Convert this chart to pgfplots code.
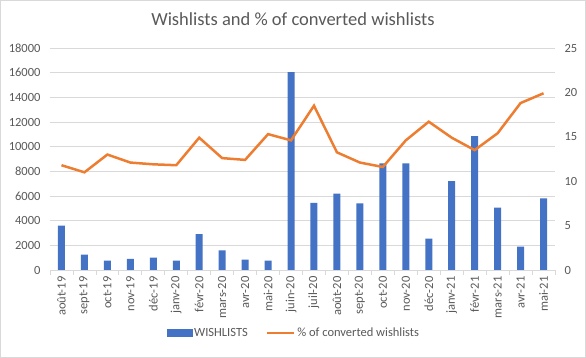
\documentclass[border=0pt]{standalone}
\usepackage{pgfplots}
\pgfplotsset{compat=1.18}
\usepackage{fontspec}
\setmainfont{Carlito}
\definecolor{xblue}{HTML}{4472C4}
\definecolor{xorange}{HTML}{ED7D31}
\definecolor{xgrid}{HTML}{D9D9D9}
\definecolor{xtext}{HTML}{595959}
\begin{document}
\begin{tikzpicture}[x=1pt,y=1pt]
\draw[xgrid, line width=0.8pt] (0.4,0.4) rectangle (585.6,357.6);
\node[text=xtext, font=\fontsize{18.5}{20}\selectfont] at (293,339) {Wishlists and \% of converted wishlists};
\begin{axis}[
  scale only axis, width=505pt, height=222pt,
  at={(50pt,88pt)}, anchor=south west,
  xmin=-0.5, xmax=21.5, ymin=0, ymax=18000,
  ytick={0,2000,...,18000},
  axis line style={draw=none},
  axis x line*=bottom,
  x axis line style={draw=xgrid, line width=0.8pt},
  ymajorgrids, grid style={xgrid, line width=0.8pt},
  major tick length=0pt,
  xtick={0,...,21},
  xticklabels={août-19,sept-19,oct-19,nov-19,déc-19,janv-20,févr-20,mars-20,avr-20,mai-20,juin-20,juil-20,août-20,sept-20,oct-20,nov-20,déc-20,janv-21,févr-21,mars-21,avr-21,mai-21},
  minor xtick={-0.5,0.5,...,21.5},
  minor tick length=5pt, tick align=outside,
  minor tick style={xgrid, line width=0.8pt},
  x tick label style={rotate=90, anchor=east, xshift=-3pt},
  /pgf/number format/set thousands separator={},
  /pgf/number format/fixed,
  scaled y ticks=false,
  ticklabel style={text=xtext, font=\fontsize{12.5}{14}\selectfont},
  /pgf/number format/assume math mode=true,
  y tick label style={xshift=-6pt},
  ytick pos=left,
]
\addplot[ybar, bar width=7pt, fill=xblue, draw=none] coordinates {
(0,3600) (1,1250) (2,750) (3,900) (4,1000) (5,750) (6,2900) (7,1600) (8,850) (9,750) (10,16050)
(11,5450) (12,6200) (13,5400) (14,8650) (15,8650) (16,2550) (17,7200) (18,10850) (19,5050) (20,1900) (21,5800)};
\end{axis}
\begin{axis}[
  scale only axis, width=505pt, height=222pt,
  at={(50pt,88pt)}, anchor=south west,
  xmin=-0.5, xmax=21.5, ymin=0, ymax=25,
  ytick={0,5,...,25},
  axis line style={draw=none},
  axis y line*=right,
  axis x line=none,
  major tick length=0pt,
  ticklabel style={text=xtext, font=\fontsize{12.5}{14}\selectfont},
  /pgf/number format/assume math mode=true,
  y tick label style={xshift=6pt},
  legend style={at={(0.483,-0.284)}, anchor=center, draw=none, legend columns=2,
    font=\fontsize{12.5}{14}\selectfont, text=xtext,
    /tikz/every even column/.append style={column sep=16pt}},
  legend cell align=left,
]
\addlegendimage{legend image code/.code={\fill[xblue] (0pt,-3.5pt) rectangle (25pt,3.5pt);}}
\addlegendentry{WISHLISTS}
\addplot[xorange, line width=2.5pt, legend image code/.code={\draw[xorange, line width=2.5pt] (0pt,0pt) -- (27pt,0pt);}] coordinates {
(0,11.8) (1,11.0) (2,13.0) (3,12.1) (4,11.9) (5,11.8) (6,14.9) (7,12.6) (8,12.4) (9,15.3) (10,14.6)
(11,18.5) (12,13.25) (13,12.1) (14,11.6) (15,14.6) (16,16.7) (17,14.9) (18,13.5) (19,15.4) (20,18.8) (21,19.9)};
\addlegendentry{\% of converted wishlists}
\end{axis}
\end{tikzpicture}
\end{document}
